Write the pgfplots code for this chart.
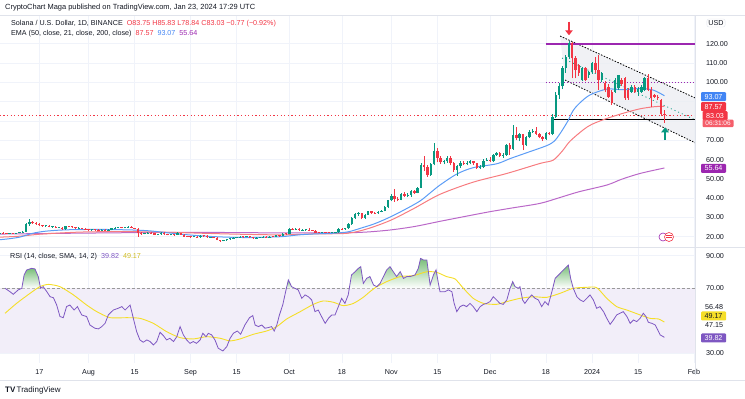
\documentclass[border=0pt]{standalone}
\usepackage{pgfplots}
\usepackage{pgfplotstable}
\pgfplotsset{compat=1.18}
\usetikzlibrary{arrows.meta}
\usepackage{fontspec}
\setmainfont{Liberation Sans}
\definecolor{tvgreen}{RGB}{8,153,129}
\definecolor{tvred}{RGB}{242,54,69}
\definecolor{ema21c}{RGB}{91,156,246}
\definecolor{ema50c}{RGB}{247,124,128}
\definecolor{ema200c}{RGB}{186,104,200}
\definecolor{purpc}{RGB}{156,39,176}
\definecolor{rsic}{RGB}{126,87,194}
\definecolor{smac}{RGB}{245,222,40}
\definecolor{gridc}{RGB}{240,243,250}
\definecolor{sepc}{RGB}{224,227,235}
\definecolor{txtc}{RGB}{19,23,34}
\definecolor{bandc}{RGB}{242,238,249}
\definecolor{chanc}{RGB}{236,238,243}
\definecolor{badgeblue}{RGB}{66,133,244}
\definecolor{rsigreen}{RGB}{120,190,120}
\newcommand{\tvf}{\fontsize{7.2}{8.6}\selectfont}

\pgfplotstableread{
t o h l c
4 21.6 22.4 21.3 22.1
5 22.1 22.5 21.6 21.8
6 21.8 22.1 21.3 21.5
7 21.5 22.0 21.3 21.9
8 21.9 22.1 21.5 21.7
9 21.7 22.2 21.4 22.0
10 22.0 22.5 21.8 22.2
11 22.2 22.9 21.9 22.6
12 22.6 27.0 22.4 26.5
13 26.5 29.3 25.8 27.4
14 27.4 28.0 26.5 26.9
15 26.9 27.4 26.2 26.6
16 26.6 26.9 25.6 25.9
17 25.9 26.3 25.2 25.6
18 25.6 26.0 25.2 25.7
19 25.7 26.0 24.9 25.1
20 25.1 25.5 24.8 25.2
21 25.2 25.8 24.3 24.6
22 24.6 25.0 24.3 24.7
23 24.7 24.9 23.6 23.9
24 23.9 25.8 23.7 25.5
25 25.5 25.8 25.1 25.4
26 25.4 25.7 24.6 24.9
27 24.9 25.2 24.2 24.5
28 24.5 24.9 24.1 24.6
29 24.6 24.8 23.8 24.1
30 24.1 24.4 23.4 23.7
31 23.7 24.0 23.1 23.5
32 23.5 24.1 23.2 23.8
33 23.8 24.0 23.1 23.5
34 23.5 23.8 23.0 23.4
35 23.4 23.9 23.1 23.6
36 23.6 23.8 23.0 23.3
37 23.3 23.8 23.0 23.5
38 23.5 24.8 23.3 24.5
39 24.5 24.9 24.3 24.6
40 24.6 25.0 24.3 24.7
41 24.7 25.0 24.4 24.6
42 24.6 25.3 24.4 25.0
43 25.0 25.4 24.7 25.1
44 25.1 25.5 24.3 24.6
45 24.6 24.8 23.9 24.2
46 24.2 24.3 20.0 22.0
47 22.0 22.3 21.0 21.5
48 21.5 22.2 21.3 21.9
49 21.9 22.3 21.6 22.0
50 22.0 22.3 21.6 21.9
51 21.9 22.2 20.8 21.0
52 21.0 21.5 20.8 21.2
53 21.2 22.3 21.0 22.1
54 22.1 22.3 21.0 21.2
55 21.2 21.4 20.7 20.9
56 20.9 21.3 20.7 21.0
57 21.0 21.2 20.6 20.9
58 20.9 22.3 20.8 22.0
59 22.0 22.2 20.8 21.0
60 21.0 21.2 19.9 20.1
61 20.1 20.3 19.8 20.0
62 20.0 20.2 19.6 19.9
63 19.9 20.2 19.7 20.0
64 20.0 20.2 19.6 19.8
65 19.8 20.8 19.6 20.5
66 20.5 20.7 20.1 20.4
67 20.4 20.8 19.5 19.7
68 19.7 20.0 19.5 19.8
69 19.8 20.0 19.4 19.6
70 19.6 19.8 18.1 18.3
71 18.3 18.5 17.4 17.8
72 17.8 18.4 17.6 18.2
73 18.2 18.8 18.0 18.6
74 18.6 19.4 18.4 19.2
75 19.2 19.8 19.0 19.5
76 19.5 20.0 19.3 19.7
77 19.7 20.3 19.5 20.0
78 20.0 20.3 19.6 19.9
79 19.9 20.4 19.7 20.1
80 20.1 20.3 19.6 19.9
81 19.9 20.1 19.1 19.3
82 19.3 19.8 19.1 19.5
83 19.5 20.0 19.3 19.8
84 19.8 20.3 19.6 20.0
85 20.0 20.3 19.5 19.8
86 19.8 20.4 19.6 20.1
87 20.1 20.3 19.7 19.9
88 19.9 21.1 19.8 20.9
89 20.9 21.1 20.1 20.4
90 20.4 21.9 20.2 21.6
91 21.6 22.0 21.1 21.4
92 21.4 24.4 21.3 24.1
93 24.1 24.5 23.5 23.8
94 23.8 24.3 23.4 23.9
95 23.9 24.8 23.0 23.4
96 23.4 23.9 23.1 23.5
97 23.5 23.9 23.2 23.6
98 23.6 24.5 22.9 23.4
99 23.4 23.6 22.9 23.2
100 23.2 23.3 22.0 22.2
101 22.2 22.5 21.8 22.0
102 22.0 22.5 21.8 22.3
103 22.3 22.5 21.9 22.1
104 22.1 22.4 21.8 22.0
105 22.0 22.4 21.8 22.2
106 22.2 22.6 22.0 22.3
107 22.3 24.3 22.2 24.0
108 24.0 24.5 23.5 23.8
109 23.8 24.8 23.6 24.3
110 24.3 27.0 24.1 26.6
111 26.6 30.2 26.3 29.6
112 29.6 32.5 29.2 31.8
113 31.8 32.8 30.8 32.2
114 32.2 32.4 29.0 29.6
115 29.6 32.0 29.3 31.5
116 31.5 33.6 31.2 33.2
117 33.2 33.6 31.8 32.4
118 32.4 33.0 31.7 32.2
119 32.2 33.3 31.9 32.9
120 32.9 34.0 32.6 33.6
121 33.6 35.8 33.2 35.3
122 35.3 39.2 35.0 38.8
123 38.8 42.0 38.4 41.1
124 41.1 44.5 38.2 39.7
125 39.7 40.8 38.3 39.1
126 39.1 42.8 38.8 42.4
127 42.4 43.0 40.6 41.2
128 41.2 42.5 40.5 41.6
129 41.6 44.0 40.8 43.6
130 43.6 44.2 42.2 42.8
131 42.8 46.0 42.5 45.5
132 45.5 58.2 45.2 57.0
133 57.0 61.8 54.0 56.3
134 56.3 57.0 51.1 52.0
135 52.0 58.0 51.5 57.5
136 57.5 68.4 57.0 64.5
137 64.5 66.0 58.5 61.0
138 61.0 62.0 57.8 58.5
139 58.5 60.0 57.5 59.0
140 59.0 62.0 58.3 61.0
141 61.0 61.8 57.0 58.0
142 58.0 58.5 53.5 54.5
143 54.5 57.0 51.5 56.5
144 56.5 59.0 55.5 58.3
145 58.3 59.5 57.0 57.8
146 57.8 59.0 57.0 58.2
147 58.2 60.0 57.5 59.0
148 59.0 59.5 57.3 58.0
149 58.0 58.3 55.0 55.5
150 55.5 57.0 55.0 56.0
151 56.0 60.5 55.5 59.5
152 59.5 61.0 59.0 60.0
153 60.0 61.5 58.5 59.0
154 59.0 63.0 58.5 62.5
155 62.5 64.0 62.0 63.3
156 63.3 64.0 61.5 62.0
157 62.0 63.5 61.0 62.5
158 62.5 68.0 62.0 67.5
159 67.5 68.5 62.5 65.5
160 65.5 77.9 65.0 72.5
161 72.5 77.0 70.0 71.0
162 71.0 74.0 69.5 73.0
163 73.0 73.5 64.9 67.5
164 67.5 72.0 67.0 71.5
165 71.5 75.5 71.0 74.5
166 74.5 75.8 74.0 75.0
167 75.0 76.9 72.8 73.5
168 73.5 74.0 71.0 71.5
169 71.5 72.0 69.5 70.5
170 70.5 74.5 70.0 74.0
171 74.0 74.5 72.5 73.5
172 73.5 83.5 72.5 82.3
173 82.3 95.0 81.5 93.4
174 93.4 99.5 91.5 98.0
175 98.0 108.5 96.5 107.2
176 107.2 114.0 105.0 113.3
177 113.3 121.5 112.0 120.2
178 120.2 121.0 102.0 112.4
179 112.4 113.5 102.0 106.4
180 108.9 109.5 103.5 104.6
181 101.2 108.0 100.5 107.2
182 107.2 108.0 100.5 101.2
183 103.8 106.0 102.5 105.5
184 105.5 110.5 104.5 109.8
185 109.8 113.0 105.0 106.4
186 106.4 114.0 96.0 101.2
187 101.2 105.5 100.0 104.6
188 99.5 100.5 95.0 96.0
189 97.8 99.0 92.0 92.6
190 95.2 96.0 88.2 89.1
191 95.2 102.0 94.5 101.2
192 96.9 104.0 96.0 103.8
193 101.0 102.5 98.0 99.0
194 102.1 103.0 91.0 91.7
195 96.0 97.0 91.0 91.7
196 95.2 98.5 94.5 97.8
197 97.8 98.5 94.5 95.2
198 95.2 97.5 93.0 96.5
199 95.2 98.5 94.5 97.8
200 96.0 103.0 95.5 102.1
201 102.1 104.5 95.5 96.0
202 96.0 97.5 87.4 91.7
203 93.4 94.0 92.0 92.6
204 92.6 93.5 91.0 91.7
205 90.8 91.5 82.5 83.8
206 83.75 85.83 78.84 83.03
}\candles

\pgfplotstableread{
t r
5.6 70
7.1 67.9
8.1 66.3
9.6 69
10.7 70
11.4 78.2
12.2 81.3
13.7 82.3
14.7 81.9
15.7 77.2
16.4 70
17.2 71
18.3 67.9
19.3 64.8
20.3 64.2
21.3 59.7
22.3 52.6
23.3 51.9
24.3 58.7
25.3 59.7
26.6 56.6
27.6 58.7
28.9 53.6
30.4 52.6
31.4 47.4
32.9 45.4
34.0 45.0
35.0 46.4
36.0 48.4
37.0 53.6
38.5 56.6
40.0 57.7
41.1 58.7
42.1 56.6
43.6 59.7
44.6 51.5
45.6 43.3
46.6 38.2
47.6 36.8
48.7 38.2
49.7 37.2
50.7 35.1
51.7 37.2
52.7 42.9
53.7 40.9
54.7 38.2
55.7 39.2
56.8 37.2
57.8 40.2
58.8 46.4
59.8 41.3
60.8 38.2
61.8 36.1
62.8 37.2
63.8 36.1
64.9 38.2
65.7 42.3
66.7 40.2
67.4 42.3
68.4 41.3
69.4 38.2
70.4 33.1
71.8 31.4
73.0 34.1
74.0 39.2
75.0 42.3
76.2 43.7
77.2 41.7
78.5 47.4
79.9 51.9
80.9 53.2
81.6 47.4
82.6 46.4
83.6 47.4
84.6 45.4
85.6 45.8
86.6 46.4
87.4 43.7
88.2 47.4
89.0 53.6
90.0 59.7
91.0 69.0
91.7 75.1
92.7 71.0
93.7 70.0
94.7 69.0
95.8 63.8
96.8 65.9
97.8 64.8
98.8 62.8
99.8 55.6
100.8 56.6
101.8 52.6
102.9 48.4
103.9 51.5
104.9 53.6
105.9 53.6
106.9 58.7
107.9 63.8
108.9 60.7
109.9 65.9
110.9 78.2
112.0 80.2
113.0 82.3
113.7 83.3
114.5 73.0
115.5 76.1
116.5 77.2
117.6 72.0
118.6 71.0
119.6 73.0
120.6 77.2
121.6 81.3
122.6 83.3
123.6 80.2
124.6 77.2
125.7 80.2
126.7 76.1
127.7 77.2
128.7 77.2
130.2 78.2
131.2 82.3
131.9 88.4
132.8 87.4
133.8 87.4
134.8 72.0
135.8 78.2
136.6 81.3
137.3 73.1
137.8 67.9
139.3 67.9
140.3 69.0
141.4 67.9
142.1 60.7
142.9 55.6
143.9 58.7
144.9 59.7
145.9 58.7
146.9 60.7
147.9 58.7
149.0 55.6
150.0 58.7
151.0 60.1
152.0 60.7
153.0 61.8
154.0 64.8
155.0 62.8
156.0 60.7
157.0 60.1
158.1 62.8
159.1 70.0
159.9 74.1
160.6 71.0
161.6 70.0
162.1 71.0
162.9 62.8
163.6 60.7
164.7 63.8
165.7 65.9
166.7 63.8
167.7 62.8
168.7 58.7
169.7 61.8
170.7 59.7
171.8 67.9
172.8 76.1
174.3 79.2
175.8 82.3
176.8 84.3
177.5 76.1
178.3 70.0
179.4 64.8
180.4 62.8
181.4 61.8
182.4 63.8
183.4 65.9
184.4 62.8
185.4 57.7
186.4 58.7
187.5 55.6
188.5 51.5
189.5 47.8
190.5 50.5
191.5 53.6
192.5 54.6
193.5 55.6
194.6 52.6
195.6 48.4
196.6 50.5
197.6 49.5
198.6 51.5
199.6 54.6
200.4 52.6
201.1 49.1
202.2 48.4
203.2 47.4
204.0 44.3
204.7 41.3
206.0 39.82
}\rsidata

\pgfplotstableread{
t s
5.6 54.6
9.1 60.7
13.2 66.9
16.2 71
18.8 72.4
22.3 71
26.4 65.9
30.4 59.7
33.5 55.6
37.5 51.9
42.6 51.9
46.6 51.5
50.7 48.4
54.7 43.3
58.8 39.6
62.8 38.8
66.9 40.2
71 39.2
74 37.6
77 38.8
81.1 41.7
85.1 43.7
88.2 46.4
91.2 51.1
95.3 55.6
99.3 60.1
102.3 62.2
105.4 61.4
108.4 59.3
111.5 60.7
114.5 64.5
116.5 67.9
118.6 71
121.6 74.1
125.7 77.2
129.7 77.8
133.8 80.2
136.8 79.8
139.8 77.2
142.4 75.7
144.9 70
147.9 63.8
151 60.7
155 60.1
158.1 61.8
162.1 63.8
166.2 64.8
170.2 64.4
174.3 66.9
178.3 70
182.4 70.6
185.4 70.4
188.5 63.8
191.5 58.7
194.6 56.6
198.6 53.6
201.6 51.5
204.2 51.1
206 49.17
}\smadata

\pgfplotstableread{
t e
4 18.5
6 18.8
10 19.8
14 21.8
18 22.9
24.3 23.6
34.5 23.8
44.6 23.5
50 23.0
54.7 22.1
60 21.2
64.9 20.5
70 20.0
75 19.7
80 19.6
85 19.8
90 20.1
95 21.0
100 21.5
106 21.9
110 22.6
114 24.6
118 26.8
122.6 30.2
127 34.0
131.7 38.5
135 43.0
137.8 46.8
142.9 52.5
147.9 55.8
155 57.8
159.1 60.5
164.1 63.5
170.2 67.2
172.5 69.5
174.3 73.5
176.5 79.5
178.3 85.5
180.4 89.5
183.4 93.5
188.5 96.5
193.5 96.2
198.6 96.8
202.6 96.0
206 93.07
}\emaA

\pgfplotstableread{
t e
4 19.8
10 20.3
16 21.3
24 22.1
30 22.5
40 22.7
50 22.5
60 22.1
70 21.6
80 21.2
90 21.0
100 21.5
109.5 21.8
115.5 24.0
122.6 28.4
129.7 34.5
137.8 42.0
147.9 48.3
158.1 52.8
168.2 58.0
172.2 59.7
175 64.5
177.3 69.5
181.4 75.5
184 78.3
188.5 81.3
193.5 84.0
198.6 86.3
203 87.4
206 87.57
}\emaB

\pgfplotstableread{
t e
4 21.4
30 21.9
60 22.3
90 22.0
107 22.0
115 22.4
122.6 23.5
130 25.3
137.8 28.0
145 30.4
153 33.0
160 35.0
168.2 37.3
174 40.2
180 43.3
188.5 46.8
193 49.8
198.6 52.8
206 55.64
}\emaC

\pgfplotsset{
  tvaxis/.style={
    scale only axis, width=695bp, xmin=4.07, xmax=215.3,
    axis line style={draw=none}, major tick length=0pt,
    grid=major, major grid style={draw=gridc, line width=0.7bp},
    ticklabel style={font=\tvf, text=txtc},
    /pgf/number format/assume math mode=true,
    xtick={16,31,45,62,76,92,108,123,137,153,170,184,198,215},
    yticklabel pos=right,
    yticklabel style={anchor=west, xshift=7.5bp},
    xticklabel style={yshift=-3bp},
    scaled y ticks=false, clip=true,
  },
  candleup/.style={draw=none, forget plot,
    restrict expr to domain={\thisrow{c}-\thisrow{o}}{0:1000},
    error bars/.cd, y dir=plus, y explicit, error mark=none,
    error bar style={line width=#1, draw=tvgreen}},
  candledn/.style={draw=none, forget plot,
    restrict expr to domain={\thisrow{c}-\thisrow{o}}{-1000:-0.00001},
    error bars/.cd, y dir=plus, y explicit, error mark=none,
    error bar style={line width=#1, draw=tvred}},
  rsifill/.style={draw=none, forget plot, top color=rsigreen, bottom color=white},
}

\begin{document}
\begin{tikzpicture}
\path[use as bounding box] (0bp,0bp) rectangle (745bp,399bp);

% ---------------- price pane
\begin{axis}[tvaxis,
  at={(0bp,152bp)}, anchor=south west, height=232bp,
  ymin=14.7, ymax=134.9,
  xticklabels={},
  ytick={20,30,40,50,60,70,80,90,100,110,120},
  yticklabels={20.00,30.00,40.00,50.00,60.00,70.00,,,100.00,110.00,120.00},
]
% channel
\fill[chanc, opacity=0.8] (axis cs:174.3,124.0) -- (axis cs:216.8,90.8) -- (axis cs:216.8,67.5) -- (axis cs:175.8,101.2) -- cycle;
\draw[black, line width=0.8bp, dash pattern=on 1.5bp off 1.5bp] (axis cs:174.3,124.0) -- (axis cs:216.8,90.8);
\draw[black, line width=0.8bp, dash pattern=on 1.5bp off 1.5bp] (axis cs:175.8,101.2) -- (axis cs:216.8,67.5);
\draw[tvgreen, line width=0.8bp, dash pattern=on 1bp off 3bp] (axis cs:174.9,112.6) -- (axis cs:216.8,79.4);
% horizontal drawings
\draw[tvred, line width=1bp, dash pattern=on 1.2bp off 2.4bp] (axis cs:4,83.03) -- (axis cs:216,83.03);
\draw[black, line width=1.1bp] (axis cs:172.3,80.7) -- (axis cs:216,80.7);
\draw[purpc, line width=1bp, dash pattern=on 1.5bp off 1.5bp] (axis cs:170,100) -- (axis cs:216,100);
\draw[purpc, line width=2.2bp] (axis cs:170,120) -- (axis cs:216,120);
% EMAs
\addplot[ema200c, line width=1bp, smooth, tension=0.5] table[x=t,y=e] \emaC;
\addplot[ema50c, line width=1bp, smooth, tension=0.5] table[x=t,y=e] \emaB;
\addplot[ema21c, line width=1bp, smooth, tension=0.5] table[x=t,y=e] \emaA;
% candles: wicks
\addplot[candleup=0.8bp] table[x=t, y=l, y error expr=\thisrow{h}-\thisrow{l}] \candles;
\addplot[candledn=0.8bp] table[x=t, y=l, y error expr=\thisrow{h}-\thisrow{l}] \candles;
% candles: bodies
\addplot[candleup=2.4bp] table[x=t, y=o, y error expr={max(\thisrow{c}-\thisrow{o},0.3)}] \candles;
\addplot[candledn=2.4bp] table[x=t, y=c, y error expr={max(\thisrow{o}-\thisrow{c},0.3)}] \candles;
% arrows
\draw[tvred, line width=2.2bp, -{Triangle[length=5bp,width=7.5bp]}] (axis cs:177,131.5) -- (axis cs:177,124.4);
\draw[tvgreen, line width=2.2bp, -{Triangle[length=5bp,width=7.5bp]}] (axis cs:206.2,70.1) -- (axis cs:206.2,76.7);
\end{axis}

% ---------------- RSI pane
\begin{axis}[tvaxis,
  at={(0bp,36bp)}, anchor=south west, height=115bp,
  ymin=24.0, ymax=94.8,
  xticklabels={17,Aug,15,Sep,15,Oct,18,Nov,15,Dec,18,2024,15,Feb},
  ytick={30,70,90},
  yticklabels={30.00,70.00,90.00},
]
\fill[bandc] (axis cs:0,30) rectangle (axis cs:220,70);
\draw[gray!80, line width=0.7bp, dash pattern=on 3bp off 2bp] (axis cs:0,70) -- (axis cs:220,70);
% overbought regions
\addplot[rsifill] coordinates {(10.7,70)(11.4,78.2)(12.2,81.3)(13.7,82.3)(14.7,81.9)(15.7,77.2)(16.4,70)(17.2,71)(17.6,70)} -- cycle;
\addplot[rsifill] coordinates {(91.1,70)(91.7,75.1)(92.7,71)(93.7,70)} -- cycle;
\addplot[rsifill] coordinates {(110.2,70)(110.9,78.2)(112.0,80.2)(113.0,82.3)(113.7,83.3)(114.5,73.0)(115.5,76.1)(116.5,77.2)(117.6,72.0)(118.6,71.0)(119.6,73.0)(120.6,77.2)(121.6,81.3)(122.6,83.3)(123.6,80.2)(124.6,77.2)(125.7,80.2)(126.7,76.1)(127.7,77.2)(128.7,77.2)(130.2,78.2)(131.2,82.3)(131.9,88.4)(132.8,87.4)(133.8,87.4)(134.8,72.0)(135.8,78.2)(136.6,81.3)(137.3,73.1)(137.6,70)} -- cycle;
\addplot[rsifill] coordinates {(159.1,70)(159.9,74.1)(160.6,71)(161.6,70)(162.1,71)(162.2,70)} -- cycle;
\addplot[rsifill] coordinates {(172.1,70)(172.8,76.1)(174.3,79.2)(175.8,82.3)(176.8,84.3)(177.5,76.1)(178.3,70)} -- cycle;
\addplot[smac, line width=0.9bp, smooth, tension=0.4] table[x=t,y=s] \smadata;
\addplot[rsic, line width=0.8bp] table[x=t,y=r] \rsidata;
\end{axis}

% ---------------- separators
\draw[sepc, line width=0.7bp] (0bp,384bp) -- (745bp,384bp);
\draw[sepc, line width=0.8bp] (0bp,152bp) -- (745bp,152bp);
\draw[sepc, line width=0.7bp] (0bp,19bp) -- (745bp,19bp);
\draw[sepc, line width=0.7bp] (695bp,24bp) -- (695bp,384bp);

% ---------------- titles
\node[anchor=base west, inner sep=0, text=txtc] at (5bp,389.5bp) {\fontsize{7.5}{9}\selectfont CryptoChart Maga published on TradingView.com, Jan 23, 2024 17:29 UTC};
\node[anchor=base west, inner sep=0, text=txtc] at (11bp,373.5bp) {\tvf Solana / U.S. Dollar, 1D, BINANCE\ \ \textcolor{tvred}{O83.75 H85.83 L78.84 C83.03 −0.77 (−0.92\%)}};
\node[anchor=base west, inner sep=0, text=txtc] at (11bp,363bp) {\tvf EMA (50, close, 21, close, 200, close)\ \ \textcolor{tvred}{87.57}\ \ \textcolor{badgeblue}{93.07}\ \ \textcolor{purpc}{55.64}};
\node[anchor=base west, inner sep=0, text=txtc] at (10bp,140.5bp) {\tvf RSI (14, close, SMA, 14, 2)\ \ \textcolor{rsic}{39.82}\ \ \textcolor{smac!85!black}{49.17}};
\node[anchor=base west, inner sep=0, text=txtc] at (5bp,7bp) {\fontsize{8}{9}\selectfont\textbf{TV}\,TradingView};

% ---------------- right badges
\node[draw=sepc, fill=white, rounded corners=2bp, inner sep=1.5bp, text=txtc, font=\tvf] at (716bp,376bp) {USD};
\tikzset{badge/.style={fill=#1, text=white, rounded corners=1bp, inner sep=0pt, minimum width=25bp, minimum height=9bp, font=\tvf}}
\node[badge=badgeblue] at (713.5bp,302.3bp) {93.07};
\node[badge=tvred] at (713.5bp,292.3bp) {87.57};
\node[badge=tvred] at (715bp,283.3bp) {83.03};
\node[badge=tvred!80, minimum width=31bp, minimum height=7.5bp, font=\fontsize{6.5}{7}\selectfont] at (718bp,275.7bp) {06:31:06};
\node[badge=purpc] at (713.5bp,230.7bp) {55.64};
\node[badge=smac, text=txtc] at (713.5bp,83bp) {49.17};
\node[badge=rsic] at (713.5bp,61bp) {39.82};
\node[anchor=west, inner sep=0, text=txtc, font=\tvf] at (705bp,92bp) {56.48};
\node[anchor=west, inner sep=0, text=txtc, font=\tvf] at (705bp,74bp) {47.15};
% events icon
\draw[purpc, line width=0.6bp, fill=white] (663bp,162bp) circle (4bp);
\draw[tvred, line width=0.6bp, fill=white] (669bp,162bp) circle (4.5bp);
\fill[tvred] (666bp,161bp) rectangle (672bp,162bp);
\fill[tvred] (666bp,163bp) rectangle (672bp,164bp);
\end{tikzpicture}
\end{document}
